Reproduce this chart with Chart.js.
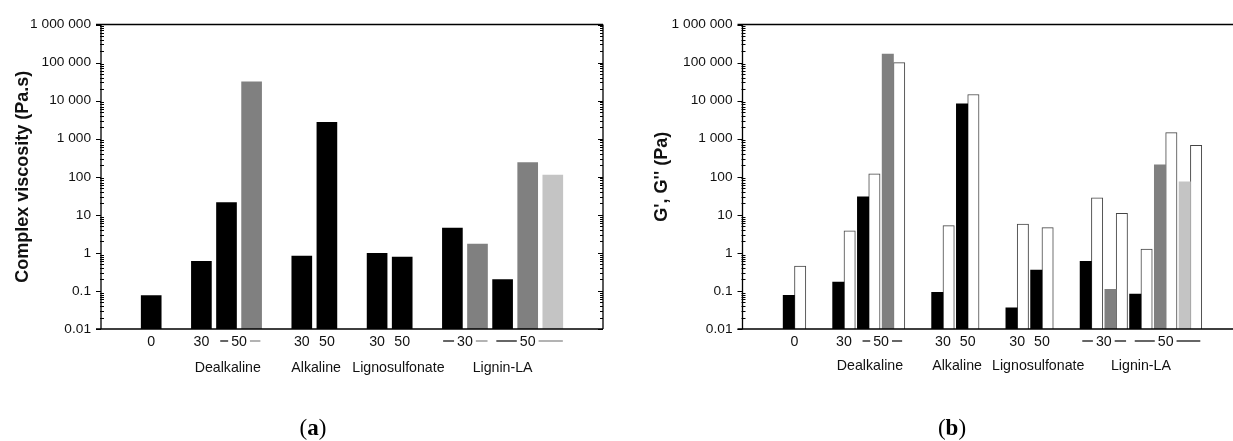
<!DOCTYPE html>
<html lang="en">
<head>
    <meta charset="UTF-8">
    <title>Complex viscosity and G', G''</title>
    <script src="https://cdn.jsdelivr.net/npm/chart.js"></script>
    <style>
        body { margin: 0; background: #fff; }
        #wrap { position: relative; width: 1233px; height: 441px; overflow: hidden; background: #fff; }
        .panel { position: absolute; top: 0; height: 441px; }
        .cap { position: absolute; top: 416px; width: 60px; margin-left: -30px; text-align: center;
               font-family: 'Liberation Serif', 'DejaVu Serif', serif; font-size: 23px; line-height: 1; color: #000; }
    </style>
</head>
<body>
<div id="wrap">
    <div class="panel" style="left:0;width:620px"><canvas id="chartA"></canvas></div>
    <div class="panel" style="left:620px;width:613px"><canvas id="chartB"></canvas></div>
    <div class="cap" style="left:313px">(<b>a</b>)</div>
    <div class="cap" style="left:952px">(<b>b</b>)</div>
</div>

<script>
    // slots along the x axis, null = empty gap between groups
    const slotLabels = ['0', null, '30', '50', '50', null, '30', '50', null, '30', '50', null, '30', '30', '50', '50', '50'];

    // (a) complex viscosity, Pa.s
    const viscBlack = [0.075, null, 0.6, 21, null, null, 0.82, 2700, null, 0.97, 0.78, null, 4.5, null, 0.2, null, null];
    const viscGrey  = [null, null, null, null, 31000, null, null, null, null, null, null, null, null, 1.7, null, 237, null];
    const viscLight = [null, null, null, null, null, null, null, null, null, null, null, null, null, null, null, null, 110];

    // (b) G' (filled) and G'' (open), Pa
    const gpBlack = [0.077, null, 0.17, 29.6, null, null, 0.092, 8200, null, 0.036, 0.355, null, 0.6, null, 0.083, null, null];
    const gpGrey  = [null, null, null, null, 166000, null, null, null, null, null, null, null, null, 0.11, null, 205, null];
    const gpLight = [null, null, null, null, null, null, null, null, null, null, null, null, null, null, null, null, 74];
    const gpp     = [0.45, null, 3.8, 120, 100000, null, 5.2, 14500, null, 5.7, 4.6, null, 28, 10.9, 1.26, 1450, 665];

    const yTickValues = [0.01, 0.1, 1, 10, 100, 1000, 10000, 100000, 1000000];
    const yTickLabels = ['0.01', '0.1', '1', '10', '100', '1 000', '10 000', '100 000', '1 000 000'];

    // first row of x labels and the second row (material names)
    const xTickLabels = ['0', '30', '50', '30', '50', '30', '50', '30', '50'];
    const groupNames = ['Dealkaline', 'Alkaline', 'Lignosulfonate', 'Lignin-LA'];

    // where the labels sit on the x axis (axis units) and the dashed spans
    const xTickPos = [1, 3, 4.5, 7, 8, 10, 11, 13.5, 16];
    const xTickSpan = [null, null, [3.75, 5.35], null, null, null, null, [12.63, 14.4], [14.75, 17.4]];
    const groupPos = [4.05, 7.57, 10.85, 15.0];

    const FONT = "'Liberation Sans', Arial, sans-serif";

    function points(values) {
        return values.map((v, i) => ({ x: i + 1, y: v })).filter(p => p.y !== null);
    }

    const axisBox = {
        id: 'axisBox',
        afterDatasetsDraw(chart, args, opts) {
            const { ctx, chartArea: a, scales: { x, y } } = chart;
            ctx.save();
            ctx.strokeStyle = '#000';
            ctx.lineWidth = 1.3;
            ctx.beginPath();
            ctx.moveTo(a.left - 5, a.bottom); ctx.lineTo(a.right, a.bottom);
            ctx.moveTo(a.left - 5, a.top); ctx.lineTo(a.right, a.top);
            ctx.moveTo(a.left, a.top); ctx.lineTo(a.left, a.bottom);
            if (opts.right) { ctx.moveTo(a.right, a.top); ctx.lineTo(a.right, a.bottom); }
            ctx.stroke();

            ctx.lineWidth = 1;
            ctx.beginPath();
            for (let e = -2; e <= 6; e++) {
                for (let m = 1; m <= 9; m++) {
                    const v = m * Math.pow(10, e);
                    if (v > 1e6) break;
                    const py = Math.round(y.getPixelForValue(v)) + 0.5;
                    const major = m === 1;
                    if (major) { ctx.moveTo(a.left - 5, py); ctx.lineTo(a.left, py); }
                    else { ctx.moveTo(a.left - 1, py); ctx.lineTo(a.left + 3, py); }
                    if (opts.right) {
                        ctx.moveTo(a.right - (major ? 5 : 3), py); ctx.lineTo(a.right, py);
                    }
                }
            }
            ctx.stroke();

            // x labels, first row
            ctx.fillStyle = '#111';
            ctx.font = '14.2px ' + FONT;
            ctx.textAlign = 'center';
            ctx.textBaseline = 'middle';
            xTickLabels.forEach((lab, i) => {
                const px = x.getPixelForValue(xTickPos[i]);
                ctx.fillText(lab, px, opts.row1);
                const span = xTickSpan[i];
                if (span) {
                    const w = ctx.measureText(lab).width / 2 + 3;
                    ctx.lineWidth = 1.2;
                    ctx.strokeStyle = opts.dash[0];
                    ctx.beginPath();
                    ctx.moveTo(x.getPixelForValue(span[0]), opts.row1 - 1);
                    ctx.lineTo(px - w, opts.row1 - 1);
                    ctx.stroke();
                    ctx.strokeStyle = opts.dash[1];
                    ctx.beginPath();
                    ctx.moveTo(px + w, opts.row1 - 1);
                    ctx.lineTo(x.getPixelForValue(span[1]), opts.row1 - 1);
                    ctx.stroke();
                }
            });
            groupNames.forEach((g, i) => {
                ctx.fillText(g, x.getPixelForValue(groupPos[i]), opts.row2);
            });
            ctx.restore();
        }
    };

    function yScale(title, width, titlePad) {
        return {
            type: 'logarithmic',
            min: 0.01,
            max: 1000000,
            stacked: false,
            afterBuildTicks: s => { s.ticks = yTickValues.map(v => ({ value: v })); },
            afterFit: s => { s.width = width; },
            grid: { display: false, drawTicks: false },
            border: { display: false },
            ticks: {
                autoSkip: false,
                padding: 10,
                color: '#111',
                font: { family: FONT, size: 13.7 },
                callback: v => yTickLabels[yTickValues.indexOf(v)]
            },
            title: {
                display: true,
                text: title,
                color: '#111',
                font: { family: FONT, size: 18, weight: 'bold' },
                padding: { top: titlePad, bottom: 0 }
            }
        };
    }

    function xScale(max) {
        return {
            type: 'linear',
            min: 0,
            max: max,
            grid: { display: false, drawTicks: false },
            border: { display: false },
            ticks: { display: false },
            afterFit: s => { s.height = 112; }
        };
    }

    new Chart(document.getElementById('chartA'), {
        type: 'bar',
        data: {
            datasets: [
                { label: 'black', data: points(viscBlack), backgroundColor: '#000', grouped: false },
                { label: 'grey', data: points(viscGrey), backgroundColor: '#808080', grouped: false },
                { label: 'light', data: points(viscLight), backgroundColor: '#c4c4c4', grouped: false }
            ]
        },
        options: {
            animation: false,
            responsive: true,
            maintainAspectRatio: false,
            layout: { padding: { top: 24.5, right: 17, left: 0, bottom: 0 } },
            datasets: { bar: { barThickness: 20 } },
            plugins: {
                legend: { display: false },
                tooltip: { enabled: false },
                axisBox: { right: true, row1: 342, row2: 368, dash: ['#000', '#808080'] }
            },
            scales: {
                x: xScale(18),
                y: yScale('Complex viscosity (Pa.s)', 101, 12.2)
            }
        },
        plugins: [axisBox]
    });

    new Chart(document.getElementById('chartB'), {
        type: 'bar',
        data: {
            datasets: [
                { label: "G' black", data: points(gpBlack), backgroundColor: '#000', stack: 'gp' },
                { label: "G' grey", data: points(gpGrey), backgroundColor: '#808080', stack: 'gp' },
                { label: "G' light", data: points(gpLight), backgroundColor: '#c4c4c4', stack: 'gp' },
                { label: "G''", data: points(gpp), backgroundColor: '#fff', borderColor: '#444', borderWidth: 1, stack: 'gpp' }
            ]
        },
        options: {
            animation: false,
            responsive: true,
            maintainAspectRatio: false,
            layout: { padding: { top: 24.5, right: 0, left: 0, bottom: 0 } },
            datasets: { bar: { barThickness: 11.35 } },
            plugins: {
                legend: { display: false },
                tooltip: { enabled: false },
                axisBox: { right: false, row1: 342, row2: 366, dash: ['#000', '#000'] }
            },
            scales: {
                x: xScale(17.62),
                y: yScale("G', G'' (Pa)", 122.5, 31)
            }
        },
        plugins: [axisBox]
    });
</script>
</body>
</html>
